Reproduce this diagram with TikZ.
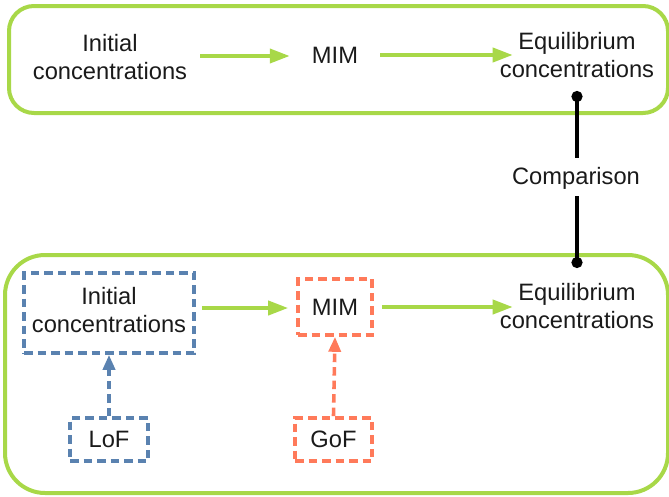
\documentclass[tikz,border=0pt]{standalone}
\usepackage{fontspec}
\setmainfont{Liberation Sans}
\usetikzlibrary{arrows.meta}
\definecolor{lgreen}{HTML}{A8D848}
\definecolor{dblue}{HTML}{5A82B0}
\definecolor{dorange}{HTML}{FF7A5A}
\definecolor{txt}{HTML}{1A1A1A}
\begin{document}
\begin{tikzpicture}[x=1pt,y=-1pt,
  every node/.style={font=\fontsize{23.7pt}{28pt}\selectfont, text=txt, align=center, inner sep=0pt},
  panel/.style={draw=lgreen, line width=4pt},
  garrow/.style={draw=lgreen, line width=3.8pt, -{Triangle[length=20pt,width=14pt]}},
  bluebox/.style={draw=dblue, line width=3.6pt, dash pattern=on 8.5pt off 5pt},
  orangebox/.style={draw=dorange, line width=3.6pt, dash pattern=on 8.5pt off 5pt},
  bluearrow/.style={draw=dblue, line width=3.6pt, dash pattern=on 8.5pt off 5pt, -{Triangle[length=15pt,width=12pt]}},
  orangearrow/.style={draw=dorange, line width=3.6pt, dash pattern=on 8.5pt off 5pt, -{Triangle[length=15pt,width=12pt]}},
  cmpline/.style={draw=black, line width=3.6pt}
]
\useasboundingbox (0,0) rectangle (669,496);
% panels
\node[panel, rounded corners=25pt, minimum width=659pt, minimum height=107pt] (toppanel) at (338.5,59.5) {};
\node[panel, rounded corners=40pt, minimum width=663pt, minimum height=238pt] (botpanel) at (336.5,374) {};
% top row
\node (i1) at (110,57) {Initial\\concentrations};
\node (m1) at (335,55) {MIM};
\node (e1) at (577,55) {Equilibrium\\concentrations};
\draw[garrow] ([xshift=13pt,yshift=1pt]i1.east) -- ([xshift=-22pt,yshift=-1pt]m1.west);
\draw[garrow] ([xshift=22pt]m1.east) -- ([xshift=13pt]e1.west |- m1.east);
% comparison
\node (cmp) at (576,178) {Comparison};
\coordinate (dtop) at (577,91);
\coordinate (dbot) at (577,268);
\draw[cmpline, {Circle[length=11pt]}-] (dtop) -- ([yshift=9pt]dtop |- cmp.north);
\draw[cmpline, -{Circle[length=11pt]}] ([yshift=-7pt]dbot |- cmp.south) -- (dbot);
% bottom row
\node[bluebox, minimum width=170pt, minimum height=80pt,
      label={[yshift=3pt]center:{Initial\\concentrations}}] (i2) at (109,313) {};
\node[orangebox, minimum width=74pt, minimum height=56pt] (m2) at (335,307) {MIM};
\node (e2) at (577,306) {Equilibrium\\concentrations};
\node[bluebox, minimum width=78pt, minimum height=43pt] (lof) at (109,439.5) {LoF};
\node[orangebox, minimum width=77pt, minimum height=43pt] (gof) at (333.5,439.5) {GoF};
\draw[garrow] ([xshift=6pt,yshift=5pt]i2.east) -- ([xshift=-8pt,yshift=-1pt]m2.west);
\draw[garrow] ([xshift=8pt]m2.east) -- ([xshift=13pt]e2.west |- m2.east);
\draw[bluearrow] (lof.north) -- (i2.south);
\draw[orangearrow] (gof.north) -- (m2.south);
\end{tikzpicture}
\end{document}
